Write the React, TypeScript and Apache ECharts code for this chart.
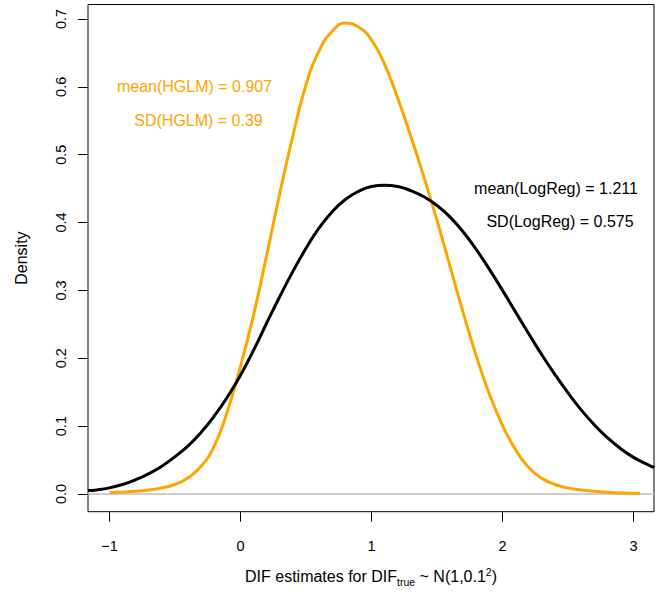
import React, { useEffect, useRef } from "react";
import * as echarts from "echarts";

// HGLM density curve (x, density)
const hglmX = [-1.0, -0.9, -0.8, -0.7, -0.6, -0.5, -0.4, -0.3, -0.2, -0.1, 0.0, 0.1, 0.2, 0.3, 0.4, 0.5, 0.6, 0.7, 0.8, 0.9, 1.0, 1.1, 1.2, 1.3, 1.4, 1.5, 1.6, 1.7, 1.8, 1.9, 2.0, 2.1, 2.2, 2.3, 2.4, 2.5, 2.6, 2.7, 2.8, 2.9, 3.0, 3.05];
const hglmY = [0.002, 0.003, 0.004, 0.006, 0.009, 0.014, 0.024, 0.041, 0.071, 0.122, 0.188, 0.264, 0.352, 0.443, 0.528, 0.603, 0.653, 0.682, 0.694, 0.688, 0.669, 0.633, 0.583, 0.527, 0.467, 0.403, 0.335, 0.267, 0.203, 0.147, 0.101, 0.065, 0.039, 0.023, 0.014, 0.009, 0.006, 0.004, 0.0025, 0.0015, 0.001, 0.001];

// LogReg density curve (x, density)
const logregX = [-1.164, -1.1, -1.0, -0.9, -0.8, -0.7, -0.6, -0.5, -0.4, -0.3, -0.2, -0.1, 0.0, 0.1, 0.2, 0.3, 0.4, 0.5, 0.6, 0.7, 0.8, 0.9, 1.0, 1.1, 1.2, 1.3, 1.4, 1.5, 1.6, 1.7, 1.8, 1.9, 2.0, 2.1, 2.2, 2.3, 2.4, 2.5, 2.6, 2.7, 2.8, 2.9, 3.0, 3.1, 3.156];
const logregY = [0.005, 0.006, 0.009, 0.014, 0.021, 0.03, 0.041, 0.055, 0.071, 0.091, 0.115, 0.143, 0.175, 0.212, 0.252, 0.291, 0.328, 0.362, 0.392, 0.416, 0.434, 0.446, 0.453, 0.455, 0.453, 0.447, 0.438, 0.425, 0.408, 0.386, 0.36, 0.331, 0.3, 0.268, 0.236, 0.205, 0.176, 0.149, 0.124, 0.102, 0.083, 0.067, 0.054, 0.044, 0.039];

const xTicks = [-1, 0, 1, 2, 3];
const yTicks = [0, 0.1, 0.2, 0.3, 0.4, 0.5, 0.6, 0.7];

const hglmLabels = ["mean(HGLM) = 0.907", "SD(HGLM) = 0.39"];
const logregLabels = ["mean(LogReg) = 1.211", "SD(LogReg) = 0.575"];

const FONT = "'Liberation Sans', Arial, sans-serif";
const ORANGE = "#FFA500";

export default function App() {
  const ref = useRef<HTMLDivElement>(null);
  useEffect(() => {
    document.body.style.margin = "0";
    if (!ref.current) return;
    const chart = echarts.init(ref.current, null, { renderer: "svg" });
    const zip = (xs: number[], ys: number[]) => xs.map((x, i) => [x, ys[i]]);
    chart.setOption({
      animation: false,
      backgroundColor: "#fff",
      grid: {
        left: 88,
        right: 7,
        top: 4.5,
        bottom: 83.3,
        show: true,
        borderColor: "#000",
        borderWidth: 1,
        containLabel: false,
        outerBoundsMode: "none",
      },
      xAxis: {
        type: "value",
        min: -1.164,
        max: 3.156,
        axisLine: { show: false, onZero: false },
        splitLine: { show: false },
        axisTick: {
          show: true,
          length: 10,
          inside: false,
          customValues: xTicks,
          lineStyle: { color: "#000", width: 1 },
        },
        axisLabel: {
          customValues: xTicks,
          margin: 27,
          fontSize: 14.5,
          fontFamily: FONT,
          color: "#000",
          formatter: (v: number) => String(v).replace("-", "\u2212"),
        },
        name: "{a|DIF estimates for DIF}{s|true}{a| ~ N(1,0.1}{p|2}{a|)}",
        nameLocation: "middle",
        nameGap: 54,
        nameTextStyle: {
          rich: {
            a: { fontSize: 16, fontFamily: FONT, color: "#000", lineHeight: 22, verticalAlign: "middle" },
            s: { fontSize: 10.5, fontFamily: FONT, color: "#000", lineHeight: 12, padding: [10, 0, 0, 0], verticalAlign: "middle" },
            p: { fontSize: 10.5, fontFamily: FONT, color: "#000", lineHeight: 12, padding: [0, 0, 10, 0], verticalAlign: "middle" },
          },
        },
      },
      yAxis: {
        type: "value",
        min: -0.0261,
        max: 0.7213,
        axisLine: { show: false, onZero: false },
        splitLine: { show: false },
        axisTick: {
          show: true,
          length: 10,
          inside: false,
          customValues: yTicks,
          lineStyle: { color: "#000", width: 1 },
        },
        axisLabel: {
          customValues: yTicks,
          rotate: 90,
          margin: 20,
          fontSize: 14.5,
          fontFamily: FONT,
          color: "#000",
          formatter: (v: number) => v.toFixed(1),
        },
        name: "Density",
        nameLocation: "middle",
        nameGap: 59,
        nameTextStyle: { fontSize: 16, fontFamily: FONT, color: "#000" },
      },
      series: [
        {
          type: "line",
          data: zip(hglmX, hglmY),
          smooth: true,
          showSymbol: false,
          symbol: "none",
          lineStyle: { color: ORANGE, width: 3 },
          z: 3,
          markLine: {
            silent: true,
            symbol: "none",
            label: { show: false },
            lineStyle: { color: "#BEBEBE", width: 1.5, type: "solid" },
            data: [{ yAxis: 0 }],
            z: 1,
          },
        },
        {
          type: "line",
          data: zip(logregX, logregY),
          smooth: true,
          showSymbol: false,
          symbol: "none",
          lineStyle: { color: "#000", width: 3 },
          z: 4,
        },
      ],
      graphic: [
        { type: "text", x: 194.5, y: 86, style: { text: hglmLabels[0], fill: ORANGE, font: `16px ${FONT}`, textAlign: "center", textVerticalAlign: "middle" } },
        { type: "text", x: 198.5, y: 120, style: { text: hglmLabels[1], fill: ORANGE, font: `16px ${FONT}`, textAlign: "center", textVerticalAlign: "middle" } },
        { type: "text", x: 556, y: 188, style: { text: logregLabels[0], fill: "#000", font: `16px ${FONT}`, textAlign: "center", textVerticalAlign: "middle" } },
        { type: "text", x: 560, y: 221, style: { text: logregLabels[1], fill: "#000", font: `16px ${FONT}`, textAlign: "center", textVerticalAlign: "middle" } },
      ],
    });
    return () => chart.dispose();
  }, []);
  return <div ref={ref} style={{ width: 661, height: 595 }} />;
}
